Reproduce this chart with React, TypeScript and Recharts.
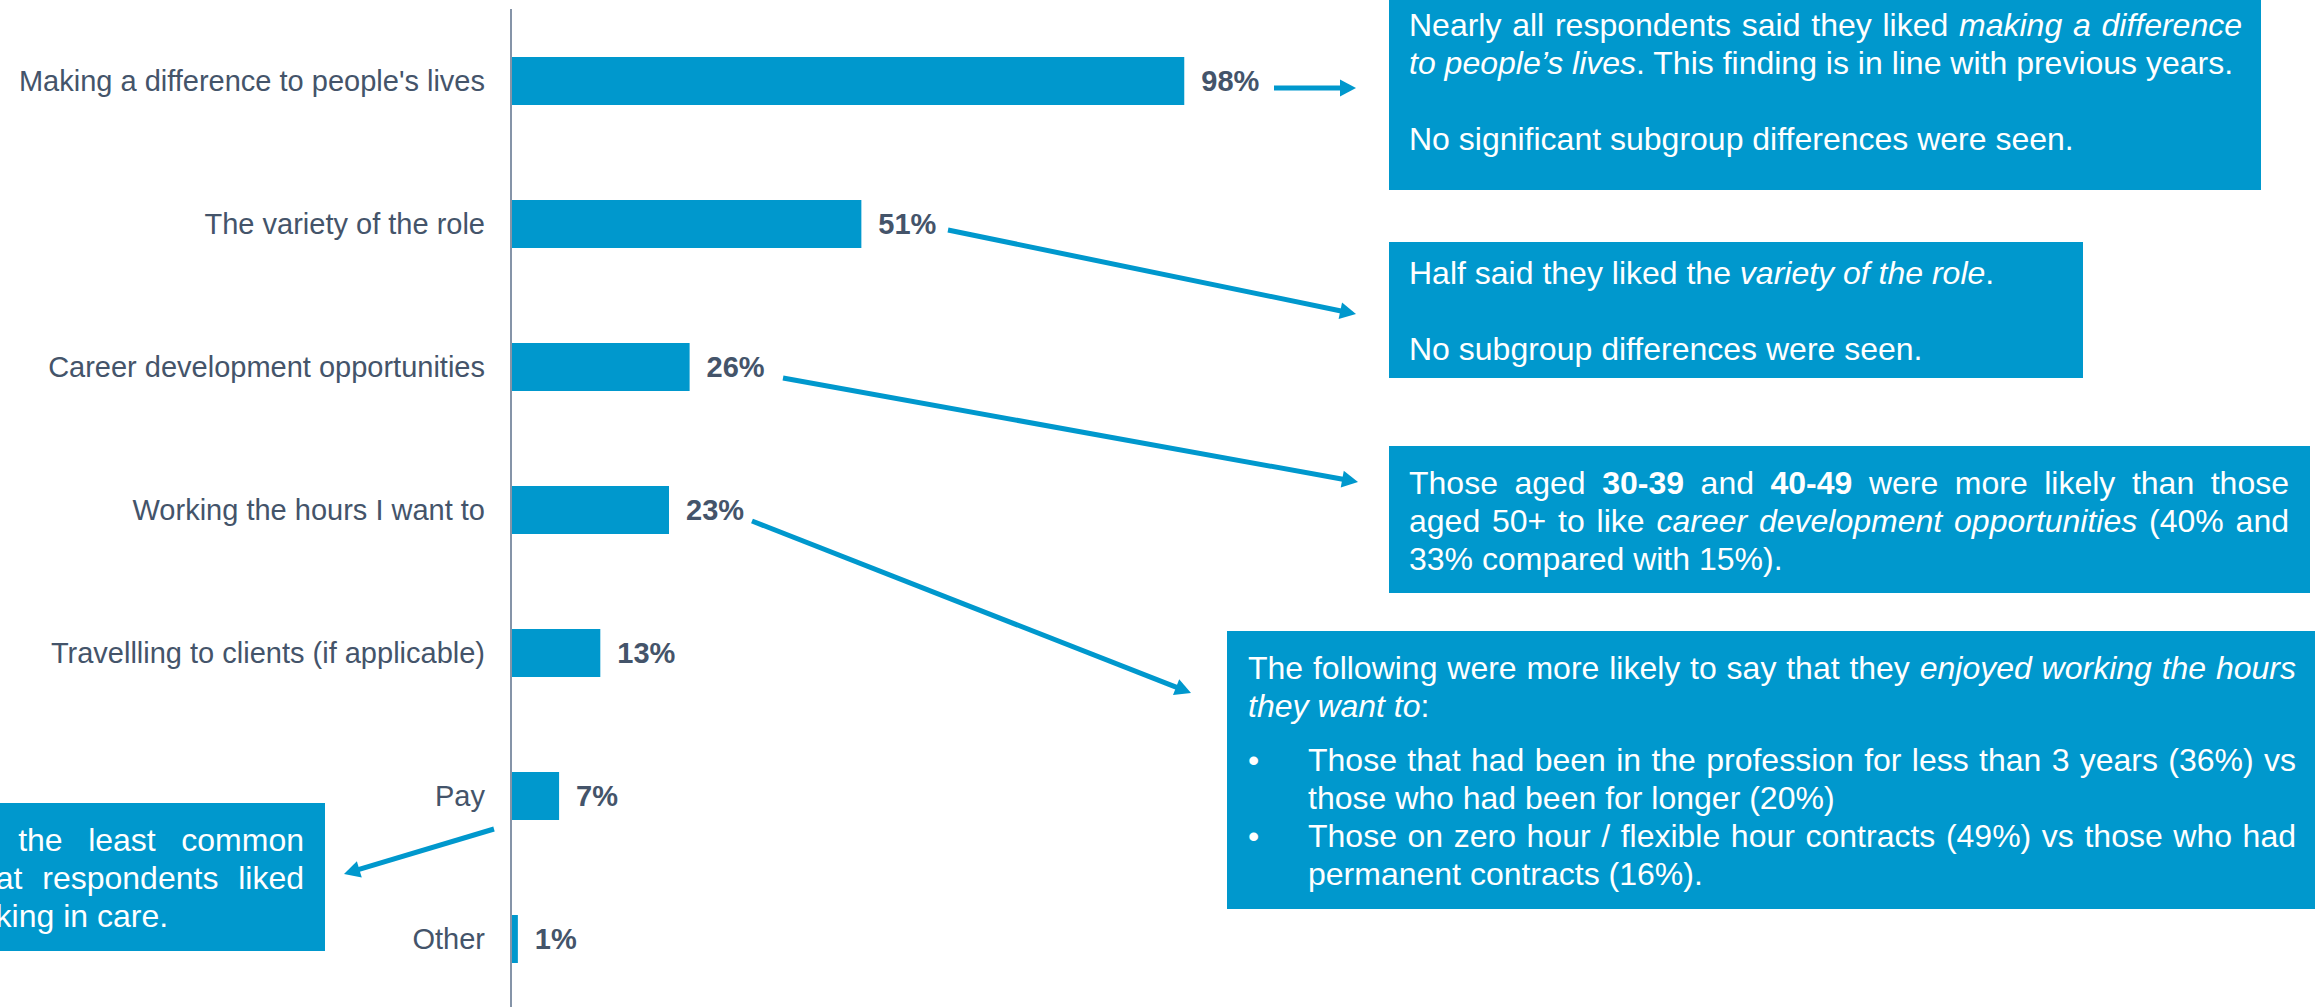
import { BarChart, Bar, XAxis, YAxis, LabelList } from "recharts";

const CATEGORIES = [
    "Making a difference to people's lives",
    "The variety of the role",
    "Career development opportunities",
    "Working the hours I want to",
    "Travellling to clients (if applicable)",
    "Pay",
    "Other",
];

const VALUES = [98, 51, 26, 23, 13, 7, 1];

const BLUE = "#0098CD";
const SLATE = "#44546A";
const FONT = '"Liberation Sans", Arial, sans-serif';

const chartData = CATEGORIES.map((name, i) => ({ name, value: VALUES[i] }));

// callout arrows: [x1, y1, x2, y2] in page pixels
const ARROWS = [
    [1274, 88, 1356, 88],
    [948, 230, 1356, 314],
    [783, 378, 1358, 482],
    [752, 521, 1191, 693],
    [494, 829, 344, 874],
];

const Arrow = ({ x1, y1, x2, y2 }: { x1: number; y1: number; x2: number; y2: number }) => {
    const len = Math.hypot(x2 - x1, y2 - y1);
    const ux = (x2 - x1) / len;
    const uy = (y2 - y1) / len;
    const head = 16;
    const half = 8.5;
    const bx = x2 - ux * head;
    const by = y2 - uy * head;
    const pts = `${x2},${y2} ${bx - uy * half},${by + ux * half} ${bx + uy * half},${by - ux * half}`;
    return (
        <g>
            <line x1={x1} y1={y1} x2={bx + ux * 2} y2={by + uy * 2} stroke={BLUE} strokeWidth={5} />
            <polygon points={pts} fill={BLUE} />
        </g>
    );
};

const J = ({ children }: { children: any }) => (
    <div style={{ textAlign: "justify", textAlignLast: "justify" }}>{children}</div>
);
const L = ({ children }: { children: any }) => <div style={{ whiteSpace: "nowrap" }}>{children}</div>;
const Blank = () => <div style={{ height: 38 }} />;

const boxStyle = (left: number, top: number, width: number, height: number, padLeft: number, padTop: number) =>
    ({
        position: "absolute",
        left,
        top,
        width,
        height,
        background: BLUE,
        color: "#fff",
        fontFamily: FONT,
        fontSize: 32,
        lineHeight: "38px",
        paddingLeft: padLeft,
        paddingTop: padTop,
        boxSizing: "border-box",
    }) as const;

const App = () => {
    return (
        <div
            style={{
                position: "absolute",
                left: 0,
                top: 0,
                width: 2315,
                height: 1007,
                overflow: "hidden",
                background: "#fff",
            }}
        >
            <BarChart
                width={2315}
                height={1010}
                data={chartData}
                layout="vertical"
                margin={{ top: 9, right: 1117, bottom: 0, left: 0 }}
            >
                <XAxis type="number" domain={[0, 100]} hide />
                <YAxis
                    type="category"
                    dataKey="name"
                    width={511}
                    axisLine={{ stroke: "#8594A8", strokeWidth: 2 }}
                    tickLine={false}
                    tickSize={0}
                    tickMargin={26}
                    interval={0}
                    tick={{ fill: SLATE, fontSize: 29, fontFamily: FONT }}
                />
                <Bar dataKey="value" fill={BLUE} barSize={48} isAnimationActive={false}>
                    <LabelList
                        dataKey="value"
                        position="right"
                        offset={17}
                        formatter={(v: any) => `${v}%`}
                        style={{ fill: SLATE, fontSize: 29, fontWeight: 700, fontFamily: FONT }}
                    />
                </Bar>
            </BarChart>

            <svg width={2315} height={1007} style={{ position: "absolute", left: 0, top: 0 }}>
                {ARROWS.map(([x1, y1, x2, y2], i) => (
                    <Arrow key={i} x1={x1} y1={y1} x2={x2} y2={y2} />
                ))}
            </svg>

            <div style={boxStyle(1389, 0, 872, 190, 20, 6)}>
                <div style={{ width: 833 }}>
                    <J>
                        Nearly all respondents said they liked <i>making a difference</i>
                    </J>
                    <L>
                        <i>to people’s lives</i>. This finding is in line with previous years.
                    </L>
                    <Blank />
                    <L>No significant subgroup differences were seen.</L>
                </div>
            </div>

            <div style={boxStyle(1389, 242, 694, 136, 20, 12)}>
                <L>
                    Half said they liked the <i>variety of the role</i>.
                </L>
                <Blank />
                <L>No subgroup differences were seen.</L>
            </div>

            <div style={boxStyle(1389, 446, 921, 147, 20, 18)}>
                <div style={{ width: 880 }}>
                    <J>
                        Those aged <b>30-39</b> and <b>40-49</b> were more likely than those
                    </J>
                    <J>
                        aged 50+ to like <i>career development opportunities</i> (40% and
                    </J>
                    <L>33% compared with 15%).</L>
                </div>
            </div>

            <div style={boxStyle(1227, 631, 1100, 278, 21, 18)}>
                <div style={{ width: 1048 }}>
                    <J>
                        The following were more likely to say that they <i>enjoyed working the hours</i>
                    </J>
                    <L>
                        <i>they want to</i>:
                    </L>
                    <div style={{ display: "flex", marginTop: 16 }}>
                        <div style={{ width: 60 }}>•</div>
                        <div style={{ width: 988 }}>
                            <J>Those that had been in the profession for less than 3 years (36%) vs</J>
                            <L>those who had been for longer (20%)</L>
                        </div>
                    </div>
                    <div style={{ display: "flex" }}>
                        <div style={{ width: 60 }}>•</div>
                        <div style={{ width: 988 }}>
                            <J>Those on zero hour / flexible hour contracts (49%) vs those who had</J>
                            <L>permanent contracts (16%).</L>
                        </div>
                    </div>
                </div>
            </div>

            <div style={boxStyle(-165, 803, 490, 148, 20, 18)}>
                <div style={{ width: 449 }}>
                    <J>Pay was the least common</J>
                    <J>aspect that respondents liked</J>
                    <L>about working in care.</L>
                </div>
            </div>
        </div>
    );
};

export default App;
